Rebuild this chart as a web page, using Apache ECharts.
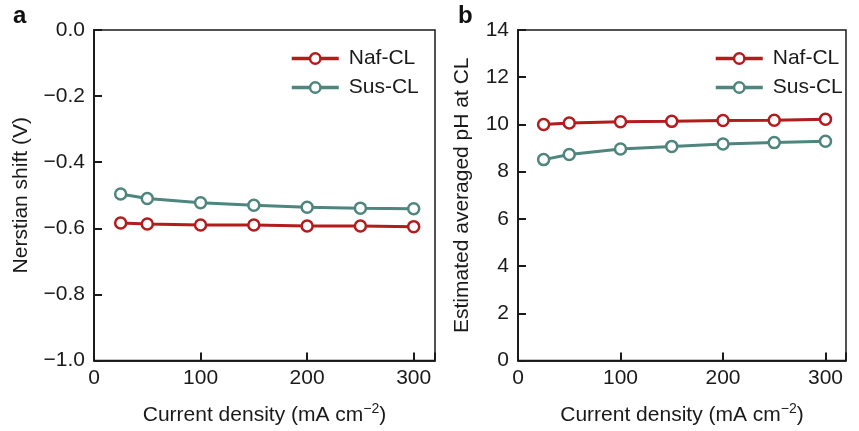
<!DOCTYPE html>
<html>
<head>
<meta charset="utf-8">
<script src="https://cdn.jsdelivr.net/npm/echarts@6/dist/echarts.min.js"></script>
<style>
  html, body { margin: 0; padding: 0; background: #fff; }
  #chart { width: 859px; height: 431px; }
</style>
</head>
<body>
<div id="chart"></div>
<script>
// current density (mA cm-2)
var currents = [25, 50, 100, 150, 200, 250, 300];
// panel a: Nerstian shift (V)
var shiftNaf = [-0.584, -0.587, -0.590, -0.590, -0.593, -0.593, -0.595];
var shiftSus = [-0.496, -0.510, -0.523, -0.530, -0.536, -0.539, -0.541];
// panel b: estimated averaged pH at CL
var phNaf = [10.00, 10.06, 10.11, 10.13, 10.17, 10.18, 10.22];
var phSus = [8.51, 8.73, 8.96, 9.07, 9.17, 9.23, 9.29];

var RED = '#b31b1c';
var TEAL = '#4e857c';
var INK = '#1a1a1a';
var CLEAR = 'rgba(0,0,0,0)';
var FONT = 'Liberation Sans, Arial, sans-serif';

function pairs(xs, ys) {
    return xs.map(function (x, i) { return [x, ys[i]]; });
}

function lineSeries(name, data, color, xi, yi) {
    return {
        name: name,
        type: 'line',
        xAxisIndex: xi,
        yAxisIndex: yi,
        data: data,
        symbol: 'circle',
        symbolSize: 11,
        lineStyle: { color: color, width: 3 },
        itemStyle: { color: '#fff', borderColor: color, borderWidth: 2.5 },
        emphasis: { disabled: true },
        animation: false
    };
}

function xAxisOf(gi) {
    return {
        type: 'value', gridIndex: gi, position: 'bottom', min: 0, max: 320, interval: 100,
        name: 'Current density (mA cm{sup|\u22122})',
        nameLocation: 'middle', nameGap: 42,
        nameTextStyle: {
            fontFamily: FONT, fontSize: 21, color: INK,
            rich: { sup: { fontFamily: FONT, fontSize: 14, color: INK, verticalAlign: 'top', padding: [0, 0, 12, 0] } }
        },
        axisLine: { onZero: false, lineStyle: { color: INK, width: 1.5 } },
        axisTick: { show: false },
        axisLabel: {
            fontFamily: FONT, fontSize: 21, color: INK, margin: 7,
            formatter: function (v) { return v % 100 === 0 ? String(v) : ''; }
        },
        splitLine: { show: false }
    };
}

function yAxisOf(gi, min, max, step, title, gap, fmt) {
    return {
        type: 'value', gridIndex: gi, position: 'left', min: min, max: max, interval: step,
        name: title, nameLocation: 'middle', nameGap: gap,
        nameTextStyle: { fontFamily: FONT, fontSize: 21, color: INK },
        axisLine: { show: true, onZero: false, lineStyle: { color: INK, width: 1.5 } },
        axisTick: { show: false },
        axisLabel: { fontFamily: FONT, fontSize: 21, color: INK, margin: 9, formatter: fmt },
        splitLine: { show: false }
    };
}

// plain tick-only axes on the same sides, they carry the inward ticks
function tickAxis(gi, side, min, max, step) {
    return {
        type: 'value', gridIndex: gi, position: side, min: min, max: max, interval: step,
        axisLine: { show: true, onZero: false, lineStyle: { color: INK, width: 1.5 } },
        axisTick: { show: true, inside: true, length: 8, lineStyle: { color: INK, width: 2 } },
        axisLabel: { color: CLEAR, fontSize: 12 },
        splitLine: { show: true, lineStyle: { color: CLEAR } }
    };
}

function legendOf(left) {
    return {
        left: left, top: 43, orient: 'vertical',
        itemWidth: 47, itemHeight: 13, itemGap: 8,
        lineStyle: { width: 3.5 },
        itemStyle: { borderWidth: 2.5 },
        textStyle: { fontFamily: FONT, fontSize: 21, color: INK, padding: [0, 0, 0, 5] },
        data: ['Naf-CL', 'Sus-CL']
    };
}

var chart = echarts.init(document.getElementById('chart'));

var option = {
    backgroundColor: '#fff',
    animation: false,
    grid: [
        { left: 94, top: 30, width: 341, height: 334, show: true, borderColor: INK, borderWidth: 1.5 },
        { left: 518, top: 30, width: 341, height: 334, show: true, borderColor: INK, borderWidth: 1.5 }
    ],
    xAxis: [
        xAxisOf(0), xAxisOf(1),
        tickAxis(0, 'bottom', 0, 320, 100), tickAxis(1, 'bottom', 0, 320, 100)
    ],
    yAxis: [
        yAxisOf(0, -1, 0, 0.2, 'Nerstian shift (V)', 62,
            function (v) { return v.toFixed(1).replace('-', '\u2212'); }),
        yAxisOf(1, 0, 14, 2, 'Estimated averaged pH at CL', 45, '{value}'),
        tickAxis(0, 'left', -1, 0, 0.2),
        tickAxis(1, 'left', 0, 14, 2)
    ],
    legend: [legendOf(285), legendOf(709)],
    series: [
        lineSeries('Naf-CL', pairs(currents, shiftNaf), RED, 0, 0),
        lineSeries('Sus-CL', pairs(currents, shiftSus), TEAL, 0, 0),
        lineSeries('Naf-CL', pairs(currents, phNaf), RED, 1, 1),
        lineSeries('Sus-CL', pairs(currents, phSus), TEAL, 1, 1)
    ],
    graphic: [
        { type: 'text', left: 13, top: 4, style: { text: 'a', font: 'bold 24px ' + FONT, fill: '#111' } },
        { type: 'text', left: 458, top: 4, style: { text: 'b', font: 'bold 24px ' + FONT, fill: '#111' } }
    ]
};

chart.setOption(option);
</script>
</body>
</html>
